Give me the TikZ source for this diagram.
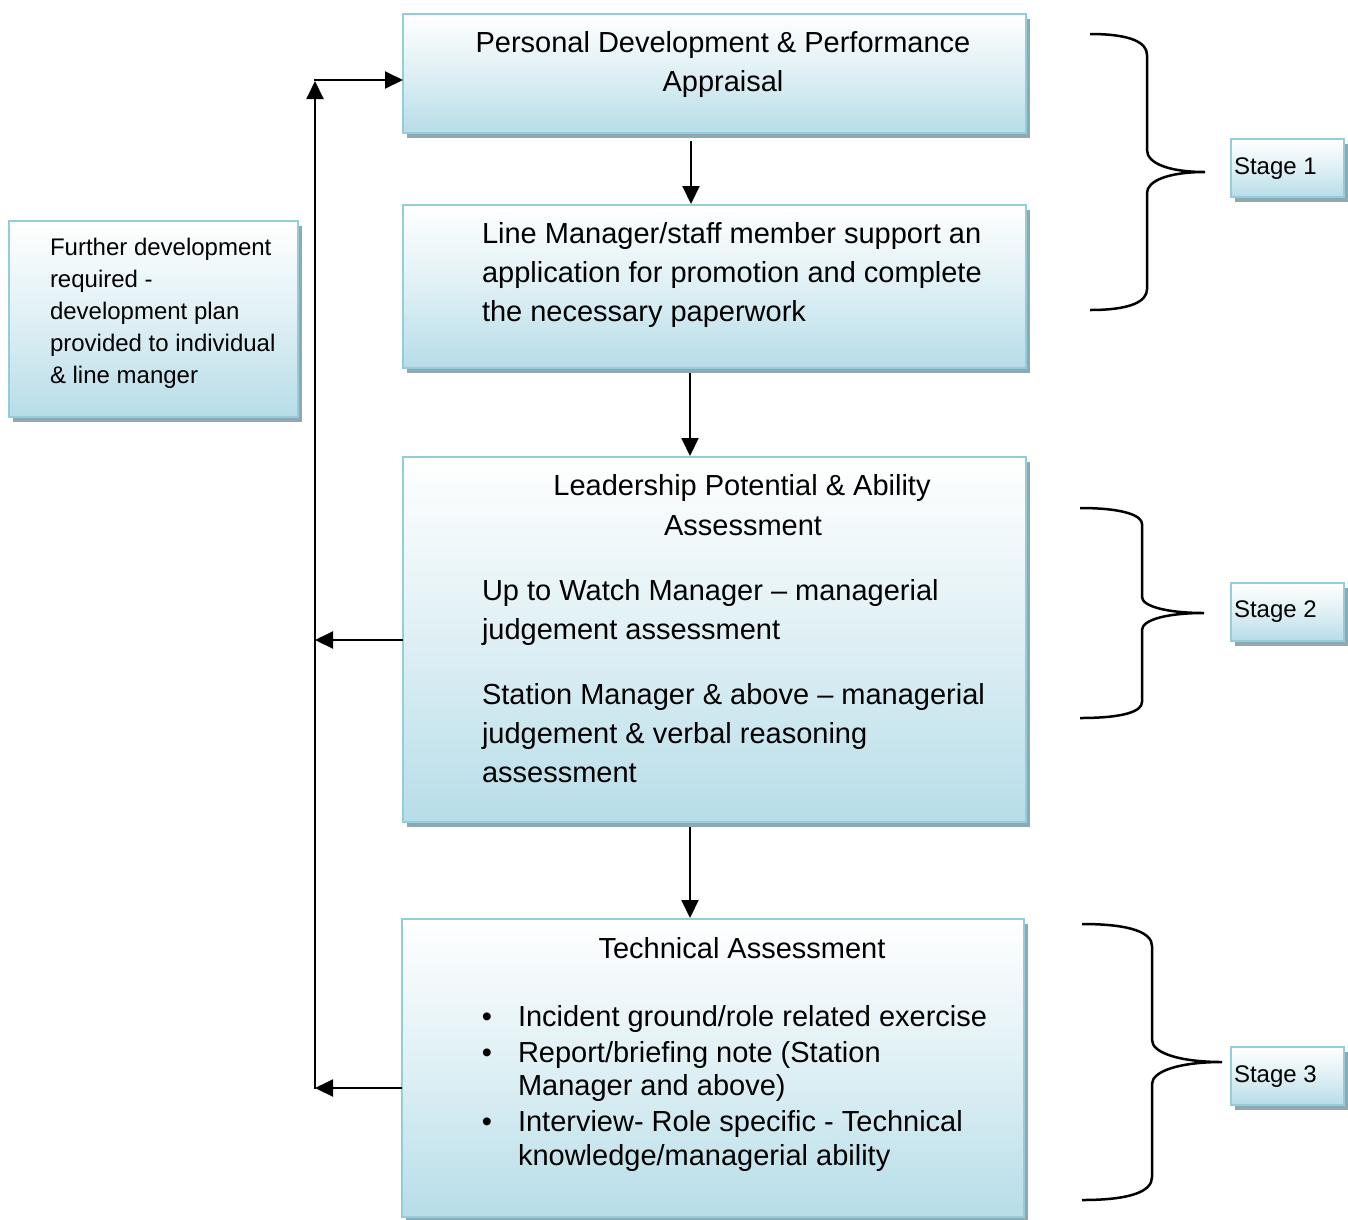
\documentclass[tikz,border=0pt]{standalone}
\usepackage{fontspec}
\setmainfont{Liberation Sans}
\usetikzlibrary{arrows.meta,shadows}
\definecolor{bordercol}{HTML}{93CDDD}
\definecolor{fillcol}{HTML}{B7DDE8}
\definecolor{shadowcol}{HTML}{8FA9B0}
\begin{document}
\begin{tikzpicture}[x=1pt,y=-1pt,
  box/.style={draw=bordercol, line width=2pt, top color=white, bottom color=fillcol,
    middle color=fillcol!45, inner sep=0pt, outer sep=0pt, anchor=north west,
    general shadow={fill=shadowcol, shadow xshift=4pt, shadow yshift=-5pt}},
  bigtxt/.style={font=\fontsize{29}{39}\selectfont, inner sep=0pt, outer sep=0pt, anchor=base west},
  bigc/.style={bigtxt, anchor=base},
  smalltxt/.style={font=\fontsize{24}{32}\selectfont, inner sep=0pt, outer sep=0pt, anchor=base west},
  arr/.style={line width=2pt, -{Triangle[length=18pt,width=17pt]}},
  bracepath/.style={line width=2.5pt},
]
\useasboundingbox (0,0) rectangle (1348,1219);

% boxes
\node[box, minimum width=623pt, minimum height=119pt] (b1) at (403,14) {};
\node[box, minimum width=623pt, minimum height=163pt] (b2) at (403,205) {};
\node[box, minimum width=623pt, minimum height=365pt] (b3) at (403,457) {};
\node[box, minimum width=622pt, minimum height=298pt] (b4) at (402,919) {};
\node[box, minimum width=289pt, minimum height=196pt] (bl) at (9,221) {};
\node[box, minimum width=113pt, minimum height=58pt] (s1) at (1231,139) {};
\node[box, minimum width=113pt, minimum height=58pt] (s2) at (1231,583) {};
\node[box, minimum width=113pt, minimum height=58pt] (s3) at (1231,1047) {};

% box 1 text
\node[bigc] (t11) at (723,52) {Personal Development \& Performance};
\node[bigc] (t12) at (723,91) {Appraisal};
% box 2 text
\node[bigtxt] (t21) at (482,243) {Line Manager/staff member support an};
\node[bigtxt] (t22) at (482,282) {application for promotion and complete};
\node[bigtxt] (t23) at (482,321) {the necessary paperwork};
% box 3 text
\node[bigc] (t31) at (742,495) {Leadership Potential \& Ability};
\node[bigc] (t32) at (743,535) {Assessment};
\node[bigtxt] (t33) at (482,600) {Up to Watch Manager – managerial};
\node[bigtxt] (t34) at (482,639) {judgement assessment};
\node[bigtxt] (t35) at (482,704) {Station Manager \& above – managerial};
\node[bigtxt] (t36) at (482,743) {judgement \& verbal reasoning};
\node[bigtxt] (t37) at (482,782) {assessment};
% box 4 text
\node[bigc] (t41) at (742,958) {Technical Assessment};
\node[bigc] (u1) at (487,1026) {•};
\node[bigtxt] (t42) at (518,1026) {Incident ground/role related exercise};
\node[bigc] (u2) at (487,1062) {•};
\node[bigtxt] (t43) at (518,1062) {Report/briefing note (Station};
\node[bigtxt] (t44) at (518,1095) {Manager and above)};
\node[bigc] (u3) at (487,1131) {•};
\node[bigtxt] (t45) at (518,1131) {Interview- Role specific - Technical};
\node[bigtxt] (t46) at (518,1165) {knowledge/managerial ability};
% left box text
\node[smalltxt] (l1) at (50,255) {Further development};
\node[smalltxt] (l2) at (50,287) {required -};
\node[smalltxt] (l3) at (50,319) {development plan};
\node[smalltxt] (l4) at (50,351) {provided to individual};
\node[smalltxt] (l5) at (50,383) {\& line manger};
% stage labels
\node[smalltxt] (st1) at (1234,174) {Stage 1};
\node[smalltxt] (st2) at (1234,617) {Stage 2};
\node[smalltxt] (st3) at (1234,1082) {Stage 3};

% connectors
\coordinate (c1b) at (691,141);
\coordinate (c2t) at (691,204);
\draw[arr] (c1b) -- (c2t);
\coordinate (c2b) at (690,373);
\coordinate (c3t) at (690,456);
\draw[arr] (c2b) -- (c3t);
\coordinate (c3b) at (690,827);
\coordinate (c4t) at (690,918);
\draw[arr] (c3b) -- (c4t);

\coordinate (j3) at (315,640);
\coordinate (j4) at (315,1088);
\coordinate (jtop) at (315,81);
\coordinate (jh) at (314,80);
\draw[arr] (b3.west |- j3) -- (j3);
\draw[arr] (b4.west |- j4) -- (j4);
\draw[arr] ([yshift=-1pt]j4) -- (jtop);
\draw[arr] (jh) -- (b1.west |- jh);

% braces
\draw[bracepath] (1090,34) .. controls (1132,34) and (1147,43) .. (1147,55)
  -- (1147,150) .. controls (1147,163) and (1168,172) .. (1205,172)
  .. controls (1168,172) and (1147,181) .. (1147,193)
  -- (1147,289) .. controls (1147,301) and (1132,310) .. (1090,310);
\draw[bracepath] (1080,508) .. controls (1125,508) and (1142,516) .. (1142,524)
  -- (1142,597) .. controls (1142,606) and (1166,613) .. (1204,613)
  .. controls (1166,613) and (1142,620) .. (1142,630)
  -- (1142,702) .. controls (1142,711) and (1125,718) .. (1080,718);
\draw[bracepath] (1082,924) .. controls (1132,924) and (1152,933) .. (1152,946)
  -- (1152,1040) .. controls (1152,1053) and (1180,1062) .. (1222,1062)
  .. controls (1180,1062) and (1152,1071) .. (1152,1084)
  -- (1152,1177) .. controls (1152,1191) and (1132,1200) .. (1082,1200);
\end{tikzpicture}
\end{document}
